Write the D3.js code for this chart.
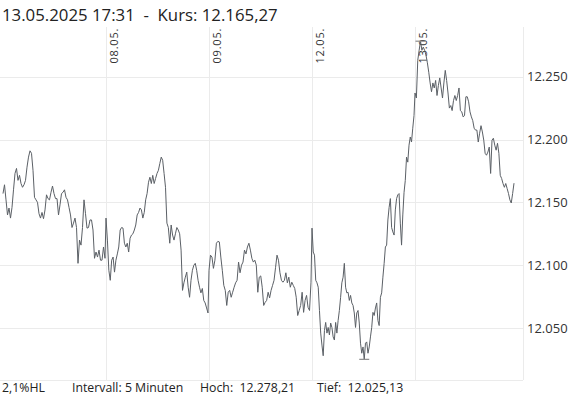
<!DOCTYPE html>
<html>
<head>
<meta charset="utf-8">
<script src="https://cdn.jsdelivr.net/npm/d3@7"></script>
<style>
  body { margin: 0; background: #fff; }
  svg { display: block; font-family: "Open Sans", sans-serif; }
  text { white-space: pre; }
</style>
</head>
<body>
<svg id="chart" width="586" height="399"></svg>
<script>
// 5 minute closes per trading day
const DAYS = ['07.05.', '08.05.', '09.05.', '12.05.', '13.05.'];
const BARS_PER_DAY = 103;
const SESSION_BARS = [102, 102, 102, 102, 99];

const day1 = [12157, 12164, 12152, 12140, 12145.5, 12137.5, 12146, 12160, 12173, 12177, 12167.5, 12171.5, 12165, 12162, 12164,
  12167.5, 12178, 12186, 12191, 12189, 12175.5, 12154, 12152, 12150, 12141, 12137.5, 12142, 12137, 12144, 12156,
  12153, 12152, 12158, 12163, 12157, 12153, 12153, 12140, 12148, 12157, 12158, 12160, 12154, 12152, 12146,
  12140, 12130, 12133.5, 12137.5, 12130, 12101.5, 12120, 12116, 12130, 12152, 12141, 12129.5, 12130, 12136, 12136,
  12128, 12105.5, 12110.5, 12106.5, 12112, 12104, 12104, 12114.5, 12105.5];
const day2 = [12137.5, 12120, 12096, 12088, 12104, 12106.5, 12094.5, 12104, 12109, 12114.5, 12128, 12130, 12129.5, 12117.5, 12114.5,
  12117.5, 12110.5, 12121.5, 12124, 12125, 12128, 12132, 12140, 12142, 12145.5, 12144, 12137.5, 12142, 12152, 12157,
  12166, 12170, 12165, 12171.5, 12165, 12169, 12173, 12175.5, 12181, 12186, 12183.5, 12173, 12162, 12133.5, 12130,
  12117.5, 12132, 12124, 12120, 12125, 12130, 12128, 12125, 12112, 12080, 12086, 12090.5, 12094.5, 12082.5, 12074.5,
  12088, 12096, 12100, 12101.5, 12096, 12088, 12082.5, 12078, 12081.5, 12072, 12070, 12066, 12062];
const day3 = [12096, 12108, 12106.5, 12097.5, 12104, 12117.5, 12119, 12118.5, 12106.5, 12096, 12084, 12080, 12068, 12078.5, 12080,
  12074.5, 12078.5, 12082.5, 12086, 12088, 12102.5, 12094, 12100, 12102.5, 12112, 12109, 12114.5, 12117.5, 12112, 12105.5,
  12102.5, 12104, 12100, 12078.5, 12090.5, 12091.5, 12082.5, 12068, 12070.5, 12072, 12078.5, 12074, 12080, 12084, 12088,
  12098, 12108, 12104, 12094, 12088, 12086.5, 12088, 12094, 12086, 12090.5, 12082.5, 12086.5, 12084, 12081.5, 12074.5,
  12060, 12064, 12068, 12078.5, 12062.5, 12072, 12076, 12066.5, 12064, 12086.5];
const day4 = [12129.5, 12110.5, 12108, 12088, 12086, 12082.5, 12064, 12046, 12036.5, 12028, 12048, 12054.5, 12046, 12050.5, 12044.5,
  12054, 12050.5, 12043, 12040.5, 12054.5, 12046, 12056, 12064, 12074.5, 12086, 12090.5, 12101.5, 12082.5, 12078, 12078.5,
  12072, 12076, 12070, 12068, 12062, 12050.5, 12062, 12064, 12054, 12038, 12030, 12035, 12025.13, 12038, 12039,
  12030, 12035, 12043, 12050.5, 12062.5, 12060, 12066, 12070, 12056, 12052, 12074.5, 12078, 12090.5, 12101.5, 12114.5,
  12116, 12136, 12146, 12153, 12130, 12126.5, 12124, 12144, 12153, 12156, 12157, 12133.5, 12116, 12140, 12158,
  12167.5, 12186, 12182, 12195.5, 12202, 12198, 12209, 12219];
const day5 = [12237, 12233, 12263, 12271, 12278.21, 12271, 12273.5, 12271, 12267, 12261, 12253.5, 12245, 12238, 12245, 12241,
  12247, 12235, 12243, 12249, 12241, 12233, 12245, 12255, 12247, 12237, 12225, 12227, 12223, 12231, 12235,
  12231, 12235, 12241, 12223, 12222, 12218, 12219, 12234, 12234, 12230, 12222, 12218, 12215, 12209, 12207.5,
  12207.5, 12198, 12205, 12211, 12206, 12199.5, 12189, 12187.5, 12190, 12194, 12173, 12199.5, 12201, 12195.5, 12191.5,
  12197, 12189, 12171.5, 12169, 12165, 12162, 12165, 12161, 12157, 12152, 12149.5, 12157, 12165.27];

const Y_TICKS = [12050, 12100, 12150, 12200, 12250];
const TITLE = '13.05.2025 17:31  -  Kurs: 12.165,27';
const FOOTER = [
  { text: '2,1%HL', x: 2 },
  { text: 'Intervall: 5 Minuten', x: 72 },
  { text: 'Hoch:  12.278,21', x: 200 },
  { text: 'Tief:  12.025,13', x: 317 }
];

const de = d3.formatLocale({ decimal: ',', thousands: '.', grouping: [3], currency: ['', ' €'] });
const fmtTick = de.format(',.0f');

// flatten days into bar index / value pairs
let points = [];
[day1, day2, day3, day4, day5].forEach((vals, d) => {
    let step = SESSION_BARS[d] / (vals.length - 1);
    vals.forEach((v, i) => points.push({ bar: d * BARS_PER_DAY + i * step, value: v }));
});

const plotLeft = 3, plotRight = 523, plotTop = 27, plotBottom = 380;

let x = d3.scaleLinear().domain([0, 520]).range([plotLeft, plotRight]);
let y = d3.scaleLinear().domain([12008.7, 12289.5]).range([plotBottom, plotTop]);

let svg = d3.select('#chart');
const grid = '#ebebeb';

// horizontal grid
svg.append('g').selectAll('line').data(Y_TICKS).join('line')
    .attr('x1', 0).attr('x2', plotRight)
    .attr('y1', d => Math.round(y(d)) + 0.5).attr('y2', d => Math.round(y(d)) + 0.5)
    .attr('stroke', grid);
svg.append('line')
    .attr('x1', 0).attr('x2', plotRight).attr('y1', plotBottom + 0.5).attr('y2', plotBottom + 0.5)
    .attr('stroke', grid);

// day separators + right border
let dayStarts = DAYS.map((d, i) => ({ label: d, bar: i * BARS_PER_DAY })).slice(1);
svg.append('g').selectAll('line').data(dayStarts.map(d => d.bar).concat([520])).join('line')
    .attr('x1', d => Math.round(x(d)) + 0.5).attr('x2', d => Math.round(x(d)) + 0.5)
    .attr('y1', plotTop).attr('y2', plotBottom)
    .attr('stroke', grid);

// day labels
svg.append('g').selectAll('text').data(dayStarts).join('text')
    .attr('transform', d => `translate(${Math.round(x(d.bar)) + 11.5},${63.5}) rotate(-90)`)
    .attr('font-size', 11)
    .attr('letter-spacing', 0.8)
    .attr('fill', '#333')
    .text(d => d.label);

// y labels
svg.append('g').selectAll('text').data(Y_TICKS).join('text')
    .attr('x', 527).attr('y', d => y(d) + 4.5)
    .attr('font-size', 13)
    .attr('fill', '#333')
    .text(d => fmtTick(d));

// price line
let line = d3.line().x(d => x(d.bar)).y(d => y(d.value));
svg.append('path')
    .datum(points)
    .attr('d', line)
    .attr('fill', 'none')
    .attr('stroke', '#5b6066')
    .attr('stroke-width', 1);

// high / low markers
let hi = d3.greatest(points, d => d.value);
let lo = d3.least(points, d => d.value);
svg.append('g').selectAll('line').data([hi, lo]).join('line')
    .attr('x1', d => x(d.bar) - 5).attr('x2', d => x(d.bar) + 5)
    .attr('y1', d => y(d.value)).attr('y2', d => y(d.value))
    .attr('stroke', '#8c8c8c').attr('stroke-width', 1.2);

// title
svg.append('text')
    .attr('x', 2).attr('y', 21)
    .attr('font-size', 16.8)
    .attr('fill', '#222')
    .text(TITLE);

// footer
svg.append('g').selectAll('text').data(FOOTER).join('text')
    .attr('x', d => d.x).attr('y', 392)
    .attr('font-size', 12.3)
    .attr('fill', '#222')
    .text(d => d.text);
</script>
</body>
</html>
